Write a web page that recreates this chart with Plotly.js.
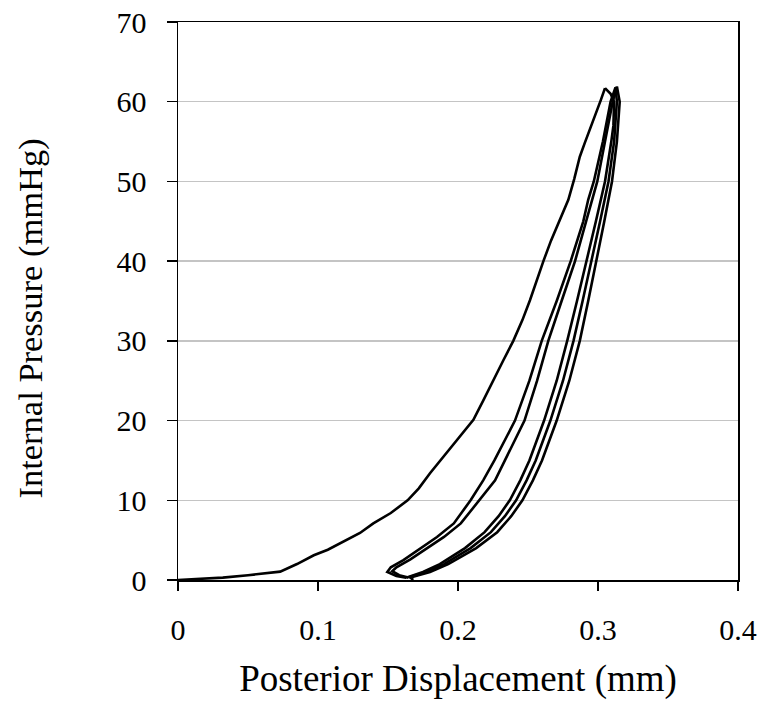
<!DOCTYPE html>
<html>
<head>
<meta charset="utf-8">
<script src="https://cdn.plot.ly/plotly-3.0.1.min.js"></script>
<style>html,body{margin:0;padding:0;background:#fff}#chart{width:764px;height:701px}</style>
</head>
<body>
<div id="chart"></div>
<script>
// Cycle 1 loading (from origin to first peak)
const load1X = [0, 0.015, 0.032, 0.05, 0.073, 0.085, 0.097, 0.107, 0.116, 0.13, 0.1395, 0.152, 0.164, 0.172, 0.180, 0.195, 0.211, 0.218, 0.2252, 0.2325, 0.2395, 0.246, 0.2514, 0.256, 0.261, 0.2665, 0.2725, 0.2788, 0.283, 0.287, 0.2905, 0.2943, 0.298, 0.302, 0.305];
const load1Y = [0, 0.1, 0.3, 0.6, 1.05, 2.0, 3.1, 3.8, 4.6, 5.9, 7.1, 8.4, 10.0, 11.5, 13.4, 16.6, 20.1, 22.5, 25.1, 27.6, 30, 32.6, 35.1, 37.5, 40, 42.6, 45.2, 47.7, 50.3, 53.1, 54.8, 56.5, 58.3, 60.2, 61.7];
// Cycle 1 unloading
const unload1X = [0.305, 0.309, 0.3115, 0.311, 0.3095, 0.305, 0.2985, 0.292, 0.285, 0.278, 0.2705, 0.2615, 0.251, 0.2445, 0.237, 0.229, 0.219, 0.205, 0.187, 0.175, 0.163];
const unload1Y = [61.7, 61.0, 60, 57, 55, 50, 45, 40, 35, 30, 25, 20, 15, 12.5, 10, 8, 6, 4, 2, 1, 0.3];
// Cycle 2 loading
const load2X = [0.163, 0.156, 0.1495, 0.152, 0.161, 0.173, 0.185, 0.197, 0.209, 0.218, 0.226, 0.2407, 0.251, 0.2598, 0.2705, 0.2805, 0.2895, 0.293, 0.297, 0.3035, 0.307, 0.309, 0.3125];
const load2Y = [0.3, 0.5, 1.0, 1.6, 2.5, 4.0, 5.4, 7.1, 10, 12.5, 15, 20, 25, 30, 35, 40, 45, 47.7, 50, 55, 58, 60, 61.8];
// Cycle 2 unloading
const unload2X = [0.3125, 0.3135, 0.3115, 0.3075, 0.3015, 0.2955, 0.289, 0.2825, 0.275, 0.266, 0.2555, 0.249, 0.2415, 0.2335, 0.2235, 0.209, 0.19, 0.1775, 0.1645];
const unload2Y = [61.8, 60, 55, 50, 45, 40, 35, 30, 25, 20, 15, 12.5, 10, 8, 6, 4, 2, 1, 0.3];
// Cycle 3 loading
const load3X = [0.1645, 0.158, 0.153, 0.156, 0.166, 0.178, 0.19, 0.202, 0.2155, 0.2265, 0.2335, 0.2475, 0.2565, 0.2645, 0.274, 0.2836, 0.2915, 0.2995, 0.305, 0.3105, 0.3135];
const load3Y = [0.3, 0.6, 1.1, 1.6, 2.6, 4.0, 5.4, 7.1, 10, 12.5, 15, 20, 25, 30, 35, 40, 45, 50, 55, 60, 61.9];
// Cycle 3 unloading
const unload3X = [0.3135, 0.3155, 0.3135, 0.31, 0.3045, 0.299, 0.293, 0.287, 0.2795, 0.2705, 0.26, 0.2535, 0.246, 0.238, 0.228, 0.213, 0.193, 0.18, 0.166, 0.168];
const unload3Y = [61.9, 60, 55, 50, 45, 40, 35, 30, 25, 20, 15, 12.5, 10, 8, 6, 4, 2, 1, 0.3, 0];

const xTickVals = [0, 0.1, 0.2, 0.3, 0.4];
const xTickText = ['0', '0.1', '0.2', '0.3', '0.4'];
const yTickVals = [0, 10, 20, 30, 40, 50, 60, 70];
const xTitle = 'Posterior Displacement (mm)';
const yTitle = 'Internal Pressure (mmHg)';

const segments = [
  [load1X, load1Y], [unload1X, unload1Y],
  [load2X, load2Y], [unload2X, unload2Y],
  [load3X, load3Y], [unload3X, unload3Y]
];
const traces = segments.map(s => ({
  x: s[0], y: s[1], type: 'scatter', mode: 'lines',
  line: {color: '#000', width: 2.6},
  hoverinfo: 'skip', showlegend: false
}));

const fontFam = '"Liberation Serif", "Times New Roman", serif';
const layout = {
  width: 764, height: 701,
  margin: {l: 178, r: 26, t: 22, b: 121},
  paper_bgcolor: '#fff', plot_bgcolor: '#fff',
  showlegend: false,
  font: {family: fontFam, color: '#000'},
  xaxis: {
    range: [0, 0.4], tickvals: xTickVals, ticktext: xTickText,
    ticks: 'outside', ticklen: 9, tickwidth: 1.5, tickcolor: '#000',
    showline: true, linecolor: '#000', linewidth: 1.5, mirror: true,
    showgrid: false, zeroline: false,
    tickfont: {family: fontFam, size: 30, color: '#000'},
    ticklabelstandoff: 13,
    title: {text: xTitle, font: {family: fontFam, size: 37, color: '#000'}, standoff: 20}
  },
  yaxis: {
    range: [0, 70], tickvals: yTickVals,
    ticks: 'outside', ticklen: 10, tickwidth: 1.5, tickcolor: '#000',
    showline: true, linecolor: '#000', linewidth: 1.5, mirror: true,
    showgrid: true, gridcolor: '#c4c4c4', gridwidth: 1.5, zeroline: false,
    tickfont: {family: fontFam, size: 30, color: '#000'},
    ticklabelstandoff: 14
  },
  annotations: [{
    text: yTitle, textangle: -90, showarrow: false,
    xref: 'paper', yref: 'paper', x: 0, y: 0.4686,
    xanchor: 'center', yanchor: 'middle', xshift: -147,
    font: {family: fontFam, size: 34.5, color: '#000'}
  }]
};

Plotly.newPlot('chart', traces, layout, {staticPlot: true, displayModeBar: false});
</script>
</body>
</html>
